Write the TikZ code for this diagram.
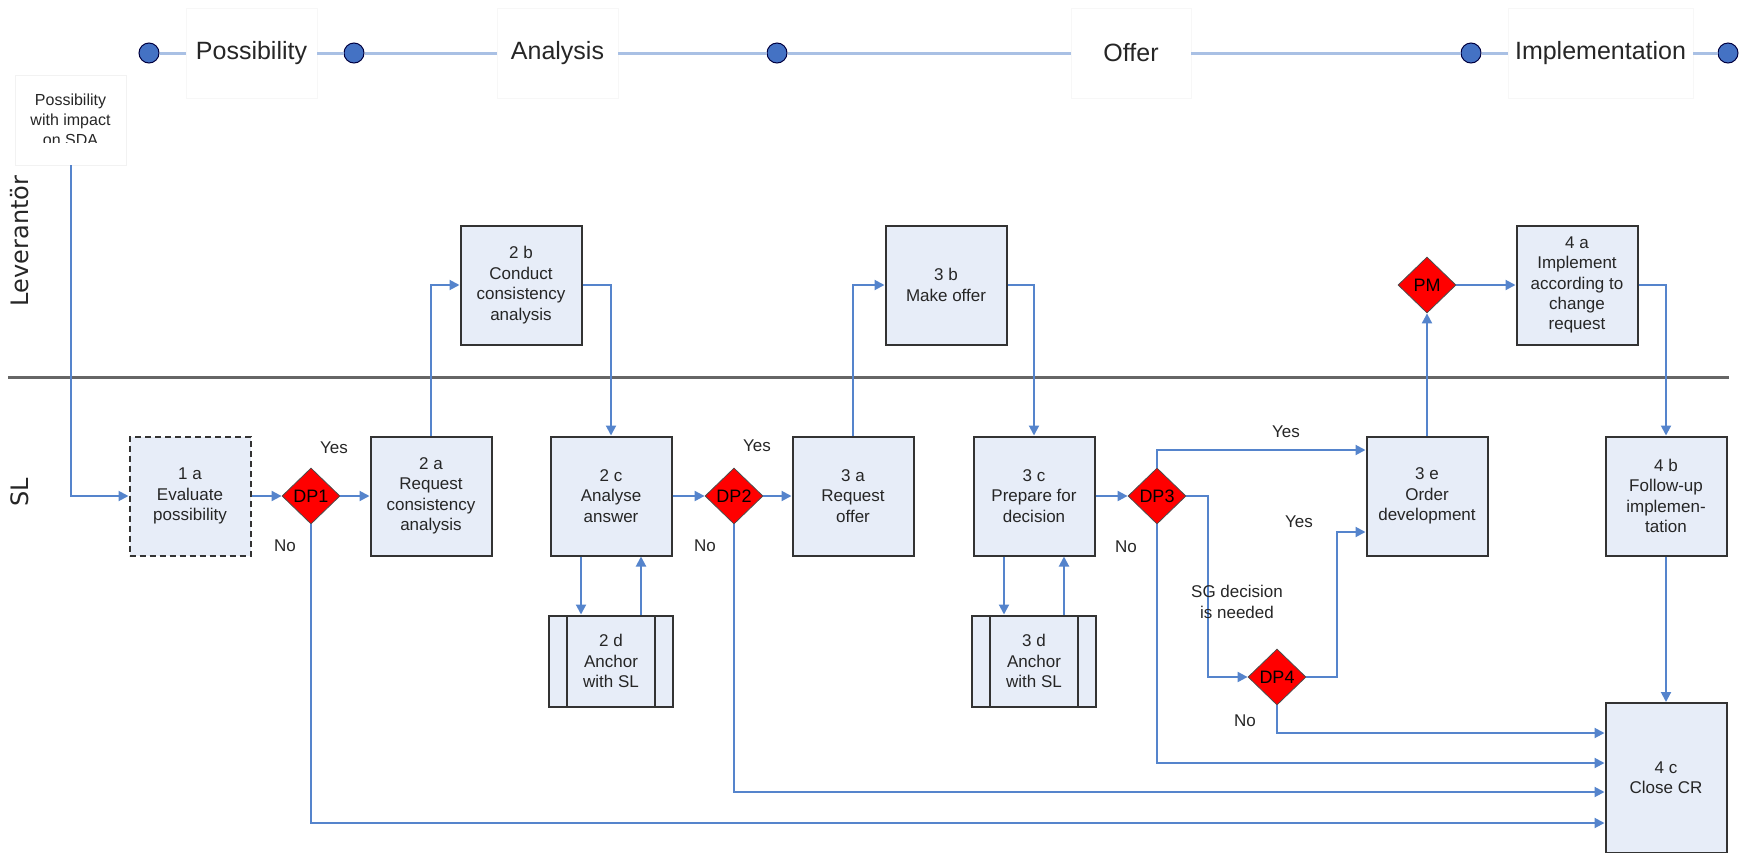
\documentclass[tikz,border=0pt]{standalone}
\usepackage{fontspec}
\setmainfont{Liberation Sans}
\newfontfamily\lanefont{DejaVu Sans}
\usetikzlibrary{shapes.geometric,arrows.meta}
\definecolor{boxfill}{HTML}{E7EDF8}
\definecolor{flowblue}{HTML}{5584CC}
\definecolor{phaseline}{HTML}{A9C0E4}
\definecolor{dotblue}{HTML}{4472C4}

\begin{document}
\begin{tikzpicture}[x=0.5pt,y=-0.5pt]
\tikzset{
  task/.style = {draw=black!80, line width=1pt, fill=boxfill, minimum width=60.5pt, minimum height=59.5pt,
    inner sep=0pt, align=center, font=\fontsize{8.5}{10.2}\selectfont, text=black!85},
  subtask/.style = {task, minimum width=62pt, minimum height=45.5pt,
    path picture={\draw[black!80, line width=1pt]
      ([xshift=9pt]path picture bounding box.north west) -- ([xshift=9pt]path picture bounding box.south west)
      ([xshift=-9pt]path picture bounding box.north east) -- ([xshift=-9pt]path picture bounding box.south east);}},
  dp/.style = {diamond, draw=black!70, line width=0.4pt, fill=red, minimum width=29pt, minimum height=28pt,
    inner sep=0pt, font=\fontsize{9}{10.2}\selectfont},
  flow/.style = {draw=flowblue, line width=1pt, -{Triangle[length=5pt,width=5pt]}},
  lbl/.style = {font=\fontsize{8.5}{10.2}\selectfont, text=black!85, align=center},
  phase/.style = {fill=white, draw=black!3, minimum height=45pt, inner sep=0pt, font=\fontsize{12.5}{15}\selectfont, text=black!85},
  dot/.style = {circle, fill=dotblue, draw=black!75!blue, line width=0.5pt, minimum size=10pt, inner sep=0pt},
  lane/.style = {rotate=90, font=\lanefont\fontsize{12}{14}\selectfont, text=black!85}
}
\useasboundingbox (0,0) rectangle (1752,852);

% phases
\node[dot] (c1) at (149,53) {};
\node[phase, minimum width=65.5pt] (possib) at (251.5,53) {Possibility};
\node[dot] (c2) at (354,53) {};
\node[phase, minimum width=60.5pt] (analys) at (557.5,53) {Analysis};
\node[dot] (c3) at (777,53) {};
\node[phase, minimum width=60pt] (offer) at (1131,53) {Offer};
\node[dot] (c4) at (1471,53) {};
\node[phase, minimum width=92.5pt] (implem) at (1600.5,53) {Implementation};
\node[dot] (c5) at (1728,53) {};
\draw[phaseline, line width=1.5pt] (c1) -- (possib) -- (c2) -- (analys) -- (c3) -- (offer) -- (c4) -- (implem) -- (c5);

% lanes
\node[lane] (lev) at (20,241) {Leverantör};
\node[lane] (sl) at (20,492) {SL};
\draw[black!60, line width=1.5pt] (8,377) -- (1729,377);

% start note
\node[draw=black!5, minimum width=55.5pt, minimum height=45pt] (sda) at (70.5,120) {};
\begin{scope}
\clip (15,75) rectangle (126,142);
\node[lbl, font=\fontsize{8}{10}\selectfont] (sdatext) at (70.5,120) {Possibility\\with impact\\on SDA};
\end{scope}

% tasks
\node[task, dash pattern=on 3pt off 2pt] (t1a) at (190,496) {1 a\\Evaluate\\possibility};
\node[dp] (dp1) at (311,496) {DP1};
\node[task] (t2a) at (431,496) {2 a\\Request\\consistency\\analysis};
\node[task] (t2b) at (521,285) {2 b\\Conduct\\consistency\\analysis};
\node[task] (t2c) at (611,496) {2 c\\Analyse\\answer};
\node[subtask] (t2d) at (611,661) {2 d\\Anchor\\with SL};
\node[dp] (dp2) at (734,496) {DP2};
\node[task] (t3a) at (853,496) {3 a\\Request\\offer};
\node[task] (t3b) at (946,285) {3 b\\Make offer};
\node[task] (t3c) at (1034,496) {3 c\\Prepare for\\decision};
\node[subtask] (t3d) at (1034,661) {3 d\\Anchor\\with SL};
\node[dp] (dp3) at (1157,496) {DP3};
\node[dp] (dp4) at (1277,677) {DP4};
\node[task] (t3e) at (1427,496) {3 e\\Order\\development};
\node[dp] (pm) at (1427,285) {PM};
\node[task] (t4a) at (1577,285) {4 a\\Implement\\according to\\change\\request};
\node[task] (t4b) at (1666,496) {4 b\\Follow-up\\implemen-\\tation};
\node[task, minimum height=75pt] (t4c) at (1666,778) {4 c\\Close CR};

% labels
\node[lbl] (yes1) at (334,448) {Yes};
\node[lbl] (no1) at (285,546) {No};
\node[lbl] (yes2) at (757,446) {Yes};
\node[lbl] (no2) at (705,546) {No};
\node[lbl] (yes3) at (1286,432) {Yes};
\node[lbl] (no3) at (1126,547) {No};
\node[lbl] (yes4) at (1299,522) {Yes};
\node[lbl] (no4) at (1245,721) {No};

% flows
\draw[flow] (sda.south) |- (t1a.west);
\draw[flow] (t1a) -- (dp1);
\draw[flow] (dp1) -- (t2a);
\draw[flow] (t2a.north) |- (t2b.west);
\draw[flow] (t2b.east) -| (t2c.north);
\draw[flow] (t2c) -- (dp2);
\draw[flow] (dp2) -- (t3a);
\draw[flow] ([xshift=-15pt]t2c.south) -- ([xshift=-15pt]t2d.north);
\draw[flow] ([xshift=15pt]t2d.north) -- ([xshift=15pt]t2c.south);
\draw[flow] (t3a.north) |- (t3b.west);
\draw[flow] (t3b.east) -| (t3c.north);
\draw[flow] (t3c) -- (dp3);
\draw[flow] ([xshift=-15pt]t3c.south) -- ([xshift=-15pt]t3d.north);
\draw[flow] ([xshift=15pt]t3d.north) -- ([xshift=15pt]t3c.south);
\draw[flow] (dp3.north) |- ([yshift=23pt]t3e.west);
\draw[flow] (dp3.east) -- ++(22,0) |- (dp4.west);
\draw[flow] (dp4.east) -- ++(31,0) |- ([yshift=-18pt]t3e.west);
\draw[flow] (dp4.south) |- ([yshift=22.5pt]t4c.west);
\draw[flow] (dp3.south) |- ([yshift=7.5pt]t4c.west);
\draw[flow] (dp2.south) |- ([yshift=-7pt]t4c.west);
\draw[flow] (dp1.south) |- ([yshift=-22.5pt]t4c.west);
\draw[flow] (t3e) -- (pm);
\draw[flow] (pm) -- (t4a);
\draw[flow] (t4a.east) -| (t4b.north);
\draw[flow] (t4b) -- (t4c);

\node[lbl] (sg) at (1237,602) {SG decision\\is needed};
\end{tikzpicture}
\end{document}
